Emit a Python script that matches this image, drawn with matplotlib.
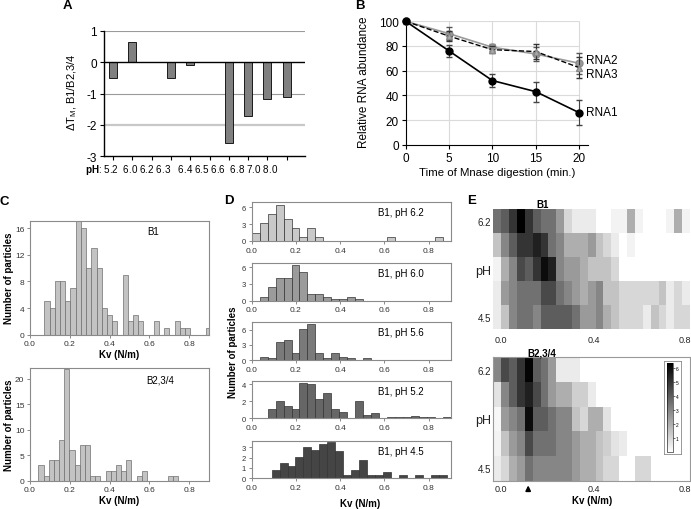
import numpy as np
import matplotlib
matplotlib.use("Agg")
import matplotlib.pyplot as plt
import matplotlib.transforms as mtransforms

plt.rcParams['font.family'] = ['Liberation Sans', 'DejaVu Sans']
plt.rcParams['axes.unicode_minus'] = False
plt.rcParams['mathtext.fontset'] = 'custom'
plt.rcParams['mathtext.rm'] = 'Liberation Sans'
plt.rcParams['mathtext.bf'] = 'Liberation Sans:bold'
plt.rcParams['mathtext.default'] = 'regular'

# ---------------- data ----------------
# Panel A
ph_A = ['5.2', '6.0', '6.2', '6.3', '6.4', '6.5', '6.6', '6.8', '7.0', '8.0']
dTm_A = [-0.5, 0.65, 0.0, -0.5, -0.08, 0.0, -2.57, -1.72, -1.16, -1.11]

# Panel B
time_B = [0, 5, 10, 15, 20]
rna1_B = [100, 76, 52, 43, 26]
rna1_err = [0, 5, 5.5, 8, 10]
rna2_B = [100, 90, 79, 73.5, 66]
rna2_err = [0, 5, 3, 6, 8.5]
rna3_B = [100, 88, 77, 75.5, 62.5]
rna3_err = [0, 4, 3, 6, 8.5]

# Panel C (histograms of Kv)
c_b1_counts = [5, 4, 8, 8, 5, 7, 17, 16, 10, 13, 10, 4, 3, 2, 0, 9, 2, 3, 2, 0,
               0, 2, 0, 1, 0, 2, 1, 1, 0, 0, 0, 1]
c_b1_start, c_b1_width = 0.0724, 0.0262
c_b234_counts = [3, 1, 4, 4, 8, 22, 6, 3, 7, 7, 1, 1, 0, 2, 2, 3, 2, 4, 0, 1,
                 2, 0, 0, 0, 0, 1, 1]
c_b234_start, c_b234_width = 0.042, 0.026

# Panel D
d_labels = ['B1, pH 6.2', 'B1, pH 6.0', 'B1, pH 5.6', 'B1, pH 5.2', 'B1, pH 4.5']
d_ph62 = [1.5, 3.2, 4.8, 6.4, 3.9, 2.3, 0.75, 2.3, 0.75, 0, 0, 0, 0, 0, 0, 0,
          0, 0.75, 0, 0, 0, 0, 0, 0.75]
d_ph60 = [0, 0.7, 2.4, 4.0, 4.0, 6.4, 5.2, 1.2, 1.2, 0.7, 0.35, 0.35, 0.7, 0.35]
d_ph56 = [0, 0.5, 0.3, 3.6, 3.9, 1.3, 6.1, 7.2, 1.3, 0.4, 1.3, 0.6, 0.3, 0, 0.3]
d_ph52 = [0, 0, 1.1, 2.0, 1.5, 1.1, 4.2, 4.0, 2.3, 3.0, 1.1, 0.7, 0, 2.0, 0.35,
          0.6, 0, 0.15, 0.15, 0.15, 0.3, 0.15, 0.15, 0, 0.15]
d_ph45 = [0.85, 1.45, 1.15, 2.1, 3.0, 2.7, 3.3, 3.55, 2.65, 0.3, 0.85, 1.8, 0.3,
          0.3, 0.6, 0, 0.3, 0, 0.3, 0, 0.3, 0.3]
d_bin_start = [0.0, 0.0, 0.0, 0.0, 0.09]
d_bin_width = 0.036

# Panel E (grey-scale maps, rows pH 6.2 ... 4.5)
e_b1 = np.array([
    [3.5, 4, 5, 6.3, 5, 4, 3.5, 3.5, 2.5, 1, 0.5, 0.5, 0.5, 0, 0, 0.3, 0.3, 2, 0.3, 0, 0, 0, 0.3, 2, 0.3],
    [1.5, 3, 4, 5, 5, 5.5, 5, 3.5, 3, 2, 2, 2, 2.5, 1.5, 1, 0.5, 0, 0.3, 0, 0, 0, 0, 0, 0, 0],
    [0.3, 2, 3, 4.5, 4, 5, 6, 5.5, 3, 2.5, 2.5, 2, 1.5, 1.5, 1.5, 1, 0, 0, 0, 0, 0, 0, 0, 0, 0],
    [0.5, 2.5, 3, 3.5, 3.5, 3.5, 4.5, 4.5, 3.5, 3, 2.5, 2, 2.5, 3, 1.5, 1.5, 1, 1, 1, 1, 1, 1.5, 0.5, 1, 0.5],
    [0.5, 1.5, 3, 3.5, 3.5, 3, 4, 4, 4, 4, 3.5, 2.5, 2.5, 3, 2, 1.5, 1, 1, 1, 0.5, 1.5, 1, 0.5, 1, 1],
])
e_b234 = np.array([
    [3, 4.5, 4, 5, 6.2, 4, 3.5, 2.5, 0.5, 0.5, 0.5, 0, 0, 0, 0, 0, 0, 0, 0, 0, 0, 0, 0, 0, 0],
    [0.7, 3, 4, 5, 5.5, 4.5, 3.5, 2.5, 2, 2, 1.2, 1.2, 0.5, 0, 0, 0, 0, 0, 0, 0, 0, 0, 0, 0, 0],
    [0.2, 2.5, 3, 3.5, 6, 4, 4, 3.5, 3, 3, 1.5, 1, 2, 2, 0.7, 0, 0, 0, 0, 0, 0, 0, 0, 0, 0],
    [0.3, 1.5, 2.5, 3, 4.5, 3.5, 3.5, 3.5, 3, 3, 2.5, 2, 2, 1.5, 1.2, 0.7, 0.5, 0, 0, 0, 0, 0, 0, 0, 0],
    [0.5, 1, 2, 2.5, 3.5, 3, 3, 3, 3, 3, 2.5, 2, 2, 1.5, 1, 1, 0, 0, 1, 1, 0, 0, 0, 0, 0],
])
e_kv_range = (-0.032, 0.814)
e_row_labels = ['6.2', 'pH', '4.5']
e_arrow_kv = 0.118

# ---------------- layout helpers ----------------
W, H = 691, 510
fig = plt.figure(figsize=(W / 100, H / 100), dpi=100)


def box(x0, y0, x1, y1):
    return [x0 / W, 1 - y1 / H, (x1 - x0) / W, (y1 - y0) / H]


def ftext(x, y, s, **kw):
    fig.text(x / W, 1 - y / H, s, **kw)


# ---------------- Panel A ----------------
axA = fig.add_axes(box(104, 32, 305, 157))
xA = np.arange(len(ph_A))
axA.axhline(1, color='#9a9a9a', lw=0.8, zorder=1)
axA.axhline(-1, color='#9a9a9a', lw=0.8, zorder=1)
axA.axhline(-2, color='#c8c8c8', lw=1.6, zorder=1)
axA.bar(xA, dTm_A, width=0.42, color='#808080', edgecolor='black', linewidth=0.6, zorder=3)
axA.axhline(0, color='black', lw=1.0, zorder=4)
axA.set_xlim(-0.47, 9.95)
axA.set_ylim(-3, 1)
axA.set_yticks([-3, -2, -1, 0, 1])
axA.set_xticks(xA)
axA.set_xticklabels([])
for s in ['top', 'right']:
    axA.spines[s].set_visible(False)
for s in ['left', 'bottom']:
    axA.spines[s].set_linewidth(1.0)
axA.tick_params(axis='y', labelsize=8.5, length=3, width=0.8, pad=2)
axA.tick_params(axis='x', length=3, width=0.8)
# pH label row, written as one line like the reference
gaps = [2, 1, 1, 3, 1, 1, 2, 1, 1]
row = ph_A[0]
for g, lab in zip(gaps, ph_A[1:]):
    row += ' ' * g + lab
ftext(85, 170, r'$\bf{pH}$: ' + row, fontsize=7.1, ha='left', va='center')
ftext(72, 92, 'ΔT$_{M}$, B1/B2,3/4', fontsize=8, rotation=90, ha='center', va='center')

# ---------------- Panel B ----------------
axB = fig.add_axes(box(405.7, 22.3, 587.7, 145.7))
axB.hlines([20, 40, 60, 80, 100], 0, 20, color='#dadada', lw=0.8, zorder=0)
axB.vlines([5, 10, 15, 20], 0, 100, color='#dadada', lw=0.8, zorder=0)
axB.errorbar(time_B, rna2_B, yerr=rna2_err, color='#9a9a9a', marker='o', ms=5,
             mfc='#9a9a9a', mec='#8a8a8a', lw=1.2, capsize=2.5, elinewidth=0.8,
             ecolor='#555555', clip_on=False, zorder=4)
axB.errorbar(time_B, rna3_B, yerr=rna3_err, color='black', ls='--', marker='^', ms=4,
             mfc='#aaaaaa', mec='#888888', lw=1.0, capsize=2.5, elinewidth=0.8,
             ecolor='#333333', clip_on=False, zorder=5)
axB.errorbar(time_B, rna1_B, yerr=rna1_err, color='black', marker='o', ms=5,
             lw=1.2, capsize=2.5, elinewidth=0.8, ecolor='#444444',
             clip_on=False, zorder=6)
axB.set_xlim(0, 21)
axB.set_ylim(0, 100)
axB.set_xticks([0, 5, 10, 15, 20])
axB.set_yticks([0, 20, 40, 60, 80, 100])
for s in ['top', 'right']:
    axB.spines[s].set_visible(False)
axB.tick_params(labelsize=8.5, length=3, width=0.8, pad=2)
axB.text(20.8, 68.5, 'RNA2', fontsize=8.5, va='center', ha='left')
axB.text(20.8, 57.0, 'RNA3', fontsize=8.5, va='center', ha='left')
axB.text(20.8, 26.3, 'RNA1', fontsize=8.5, va='center', ha='left')
ftext(364, 82, 'Relative RNA abundance', fontsize=8.5, rotation=90, ha='center', va='center')
ftext(497, 173, 'Time of Mnase digestion (min.)', fontsize=8.2, ha='center', va='center')

# ---------------- Panel C ----------------
def style_origin(ax):
    for s in ax.spines.values():
        s.set_color('#8a8a8a')
        s.set_linewidth(0.8)
    ax.tick_params(labelsize=6, length=2.5, width=0.6, color='#777777',
                   labelcolor='#333333', pad=1.5)


axC1 = fig.add_axes(box(30, 221.7, 209, 335.7))
edges = c_b1_start + c_b1_width * np.arange(len(c_b1_counts))
axC1.bar(edges, c_b1_counts, width=c_b1_width, align='edge', color='#c3c3c3',
         edgecolor='#6f6f6f', linewidth=0.5)
axC1.set_xlim(0, 0.9)
axC1.set_ylim(0, 17.1)
axC1.set_yticks([0, 4, 8, 12, 16])
axC1.set_xticks([0, 0.2, 0.4, 0.6, 0.8])
axC1.set_xticklabels(['0.0', '0.2', '0.4', '0.6', '0.8'])
style_origin(axC1)
axC1.text(0.69, 0.91, 'B1', transform=axC1.transAxes, fontsize=7, ha='center', va='center')

axC2 = fig.add_axes(box(30, 369.3, 209, 481.7))
edges = c_b234_start + c_b234_width * np.arange(len(c_b234_counts))
axC2.bar(edges, c_b234_counts, width=c_b234_width, align='edge', color='#c3c3c3',
         edgecolor='#6f6f6f', linewidth=0.5)
axC2.set_xlim(0, 0.9)
axC2.set_ylim(0, 22.1)
axC2.set_yticks([0, 5, 10, 15, 20])
axC2.set_xticks([0, 0.2, 0.4, 0.6, 0.8])
axC2.set_xticklabels(['0.0', '0.2', '0.4', '0.6', '0.8'])
style_origin(axC2)
axC2.text(0.73, 0.9, 'B2,3/4', transform=axC2.transAxes, fontsize=7, ha='center', va='center')

ftext(9, 278, 'Number of particles', fontsize=7, fontweight='bold', rotation=90, ha='center', va='center')
ftext(9, 425, 'Number of particles', fontsize=7, fontweight='bold', rotation=90, ha='center', va='center')
ftext(119.5, 355, 'Kv (N/m)', fontsize=7, fontweight='bold', ha='center', va='center')
ftext(119.5, 501, 'Kv (N/m)', fontsize=7, fontweight='bold', ha='center', va='center')

# ---------------- Panel D ----------------
d_series = [d_ph62, d_ph60, d_ph56, d_ph52, d_ph45]
d_colors = ['#c9c9c9', '#9b9b9b', '#7a7a7a', '#666666', '#454545']
d_rows = [(203.3, 242), (264.3, 301.7), (323.3, 361), (382.3, 419.3), (442.3, 479.3)]
d_ylims = [6.9, 6.67, 7.5, 4.35, 3.58]
d_yticks = [[0, 3, 6], [0, 3, 6], [0, 3, 6], [0, 2, 4], [0, 1, 2, 3]]
for vals, col, (t, b), yl, yt, lab, st in zip(d_series, d_colors, d_rows, d_ylims,
                                               d_yticks, d_labels, d_bin_start):
    ax = fig.add_axes(box(251.7, t, 450.7, b))
    e = st + d_bin_width * np.arange(len(vals))
    ax.bar(e, vals, width=d_bin_width, align='edge', color=col,
           edgecolor='#333333', linewidth=0.5)
    ax.set_xlim(0, 0.9)
    ax.set_ylim(0, yl)
    ax.set_yticks(yt)
    ax.set_xticks([0, 0.2, 0.4, 0.6, 0.8])
    ax.set_xticklabels(['0.0', '0.2', '0.4', '0.6', '0.8'])
    style_origin(ax)
    ax.tick_params(axis='y', labelsize=5.5)
    ax.text(0.635, 1 - 9.5 / (b - t), lab, transform=ax.transAxes, fontsize=7,
            ha='left', va='center')

ftext(233, 352, 'Number of particles', fontsize=7, fontweight='bold', rotation=90, ha='center', va='center')
ftext(360, 504, 'Kv (N/m)', fontsize=7, fontweight='bold', ha='center', va='center')

# ---------------- Panel E ----------------
xe = np.linspace(e_kv_range[0], e_kv_range[1], e_b1.shape[1] + 1)
ye = np.arange(e_b1.shape[0] + 1)


def style_map(ax, frame, xpad):
    ax.set_xlim(*e_kv_range)
    ax.set_ylim(ye[-1], 0)
    ax.set_xticks([0, 0.4, 0.8])
    ax.set_xticklabels(['0.0', '0.4', '0.8'])
    ax.set_yticks([0.5, 2.5, 4.5])
    ax.set_yticklabels(e_row_labels)
    ax.tick_params(axis='x', length=0, labelsize=6.5, labelcolor='#222222', pad=xpad)
    ax.tick_params(axis='y', length=0, pad=1.5, labelsize=7, labelcolor='#222222')
    ax.get_yticklabels()[1].set_fontsize(9)
    last = ax.get_xticklabels()[-1]
    last.set_horizontalalignment('right')
    last.set_transform(last.get_transform() +
                       mtransforms.ScaledTranslation(4 / 100, 0, fig.dpi_scale_trans))
    for s in ax.spines.values():
        s.set_visible(frame)
        s.set_color('#999999')
        s.set_linewidth(0.8)


axE1 = fig.add_axes(box(493.3, 210, 690, 330))
axE1.pcolormesh(xe, ye, e_b1, cmap='gray_r', vmin=0, vmax=6.3)
style_map(axE1, False, 4)
axE1.set_title('B1', fontsize=7, fontweight='bold', pad=1.5, x=0.25)

axE2 = fig.add_axes(box(493.3, 358.3, 690, 481.7))
mesh = axE2.pcolormesh(xe, ye, e_b234, cmap='gray_r', vmin=0, vmax=6.3)
style_map(axE2, True, 2.5)
axE2.set_title('B2,3/4', fontsize=7, fontweight='bold', pad=1.5, x=0.245)
axE2.annotate('', xy=(e_arrow_kv, -0.015), xycoords=('data', 'axes fraction'),
              xytext=(e_arrow_kv, -0.095), textcoords=('data', 'axes fraction'),
              arrowprops=dict(arrowstyle='-|>', color='black', lw=1.3, mutation_scale=7),
              annotation_clip=False)
ftext(592, 501, 'Kv (N/m)', fontsize=7, fontweight='bold', ha='center', va='center')

# colour bar with framed inset
frame_ax = fig.add_axes(box(664.3, 361.7, 680.5, 455))
frame_ax.set_xticks([])
frame_ax.set_yticks([])
frame_ax.set_facecolor('white')
for s in frame_ax.spines.values():
    s.set_color('#888888')
    s.set_linewidth(0.6)
cax = fig.add_axes(box(666.7, 364.3, 672.7, 453.3))
cb = fig.colorbar(mesh, cax=cax, ticks=[1, 2, 3, 4, 5, 6])
cb.outline.set_linewidth(0.4)
cax.tick_params(labelsize=3.5, length=1.5, width=0.4, pad=0.8)

# ---------------- panel letters ----------------
for (px, py, L) in [(67, 6, 'A'), (360, 6, 'B'), (4, 202, 'C'), (229, 201, 'D'), (472, 201, 'E')]:
    ftext(px, py, L, fontsize=9.5, fontweight='bold', ha='center', va='center')

fig.savefig('out.png', dpi=100)
